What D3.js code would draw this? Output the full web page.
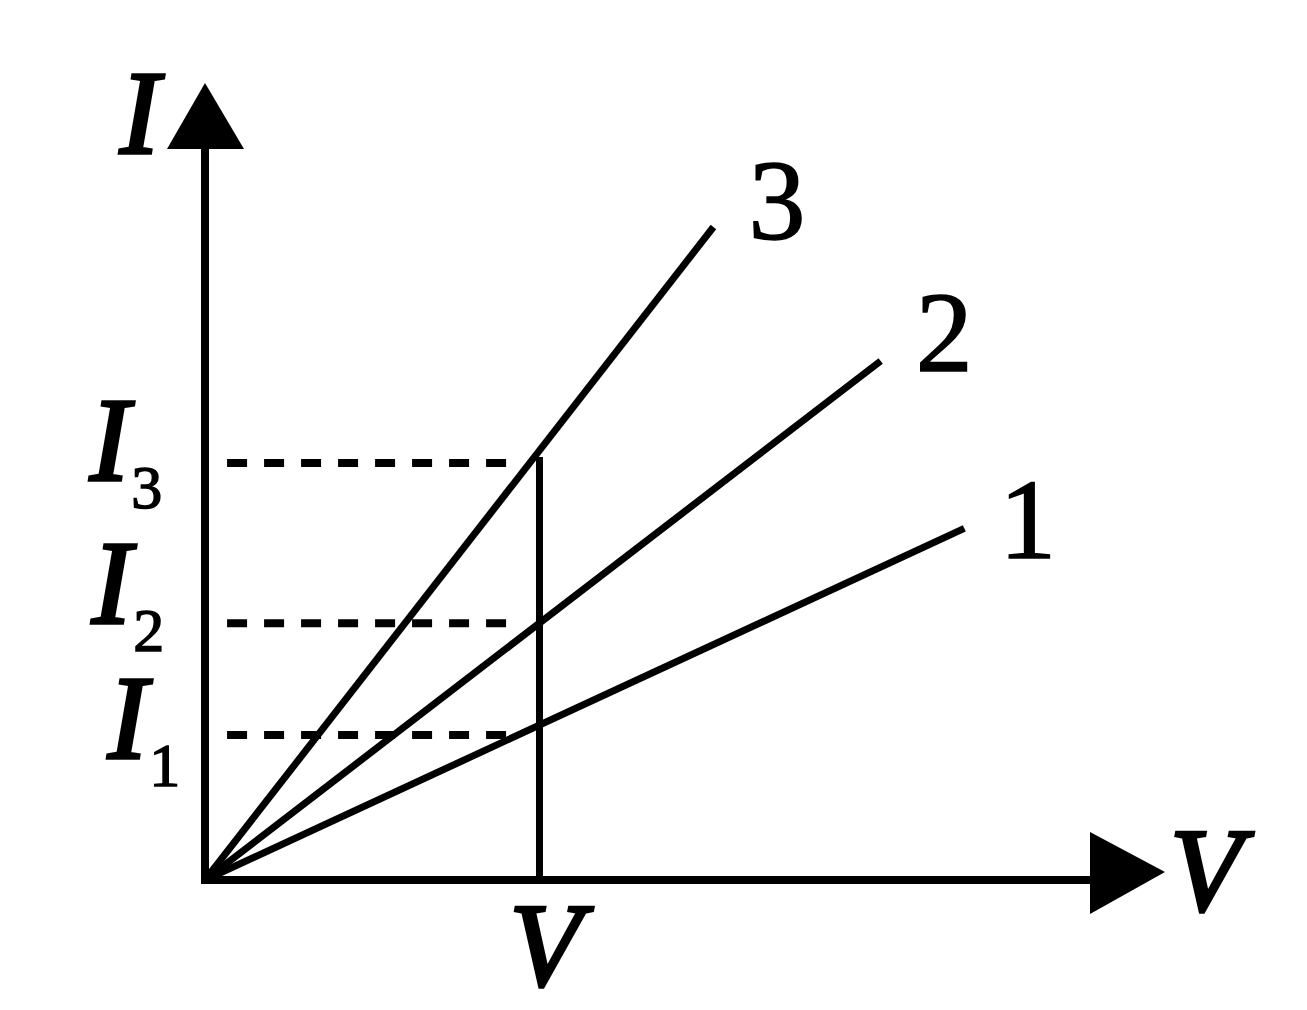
<!DOCTYPE html>
<html lang="en">
<head>
<meta charset="UTF-8">
<title>I-V characteristics</title>
<script src="https://d3js.org/d3.v7.min.js"></script>
<style>
  body { margin: 0; background: #fff; }
  .lbl { font-family: "Liberation Serif", serif; fill: #000; stroke: #000; stroke-width: 1.5; }
  .it { font-style: italic; stroke-width: 3.5; }
</style>
</head>
<body>
<svg id="chart" width="1307" height="1010"></svg>
<script>
// line names and the far end of each line (V, I)
const lineNames = ["1", "2", "3"];
const endV = [2.27, 2.02, 1.52];
const endI = [1.05, 1.55, 1.95];

// the marked voltage and the currents read at it
const markV = 1;
const markI = [0.433, 0.767, 1.245];
const markLabels = ["1", "2", "3"];
const markTop = 1.263;

// axis extents (arrow tips)
const vMax = 2.87;
const iMax = 2.38;

const svg = d3.select("#chart");
svg.append("rect").attr("width", 1307).attr("height", 1010).attr("fill", "#fff");

const x = d3.scaleLinear().domain([0, vMax]).range([205, 1165]);
const y = d3.scaleLinear().domain([0, iMax]).range([880, 83]);

const g = svg.append("g");

// dashed guides from the I axis to the marked voltage
g.selectAll(".guide")
  .data(markI)
  .enter().append("line")
  .attr("x1", x(0.066)).attr("x2", x(markV * 0.94))
  .attr("y1", d => y(d)).attr("y2", d => y(d))
  .attr("stroke", "#000").attr("stroke-width", 8)
  .attr("stroke-dasharray", "20,17");

// vertical line at V
g.append("line")
  .attr("x1", x(markV)).attr("x2", x(markV))
  .attr("y1", y(0)).attr("y2", y(markTop))
  .attr("stroke", "#000").attr("stroke-width", 7);

// the three characteristic lines
g.selectAll(".iv")
  .data(lineNames)
  .enter().append("line")
  .attr("x1", x(0)).attr("y1", y(0))
  .attr("x2", (d, i) => x(endV[i])).attr("y2", (d, i) => y(endI[i]))
  .attr("stroke", "#000").attr("stroke-width", 7);

// line labels
g.selectAll(".num")
  .data(lineNames)
  .enter().append("text")
  .attr("class", "lbl")
  .attr("x", (d, i) => x(endV[i]) + 35)
  .attr("y", (d, i) => y(endI[i]) + [30, 10, 12][i])
  .attr("font-size", 114)
  .text(d => d);

// axes with arrowheads
const aw = 8;
g.append("line")
  .attr("x1", x(0)).attr("y1", y(0) + 4)
  .attr("x2", x(0)).attr("y2", y(iMax) + 60)
  .attr("stroke", "#000").attr("stroke-width", aw);
g.append("line")
  .attr("x1", x(0) - 4).attr("y1", y(0))
  .attr("x2", x(vMax) - 70).attr("y2", y(0))
  .attr("stroke", "#000").attr("stroke-width", aw);

g.append("path")
  .attr("d", `M${x(0)},${y(iMax)} L${x(0) + 39},${y(iMax) + 66} L${x(0) - 38},${y(iMax) + 66} Z`)
  .attr("fill", "#000");
g.append("path")
  .attr("d", `M${x(vMax)},${y(0) - 8} L${x(vMax) - 75},${y(0) - 48} L${x(vMax) - 75},${y(0) + 34} Z`)
  .attr("fill", "#000");

// axis titles
g.append("text").attr("class", "lbl it")
  .attr("x", 120).attr("y", 153).attr("font-size", 118).text("I");
g.append("text").attr("class", "lbl it")
  .attr("x", 1170).attr("y", 910).attr("font-size", 118).text("V");
g.append("text").attr("class", "lbl it")
  .attr("x", x(markV) - 30).attr("y", 985).attr("font-size", 118).text("V");

// current labels I1, I2, I3
const curX = [108, 92, 90];
markI.forEach((v, i) => {
  const t = g.append("text").attr("class", "lbl")
    .attr("x", curX[i]).attr("y", y(v) + [23, 0, 17][i]);
  t.append("tspan").attr("class", "it").attr("font-size", 118).text("I");
  t.append("tspan").attr("font-size", 62).attr("dx", 2).attr("dy", 28).text(markLabels[i]);
});
</script>
</body>
</html>
